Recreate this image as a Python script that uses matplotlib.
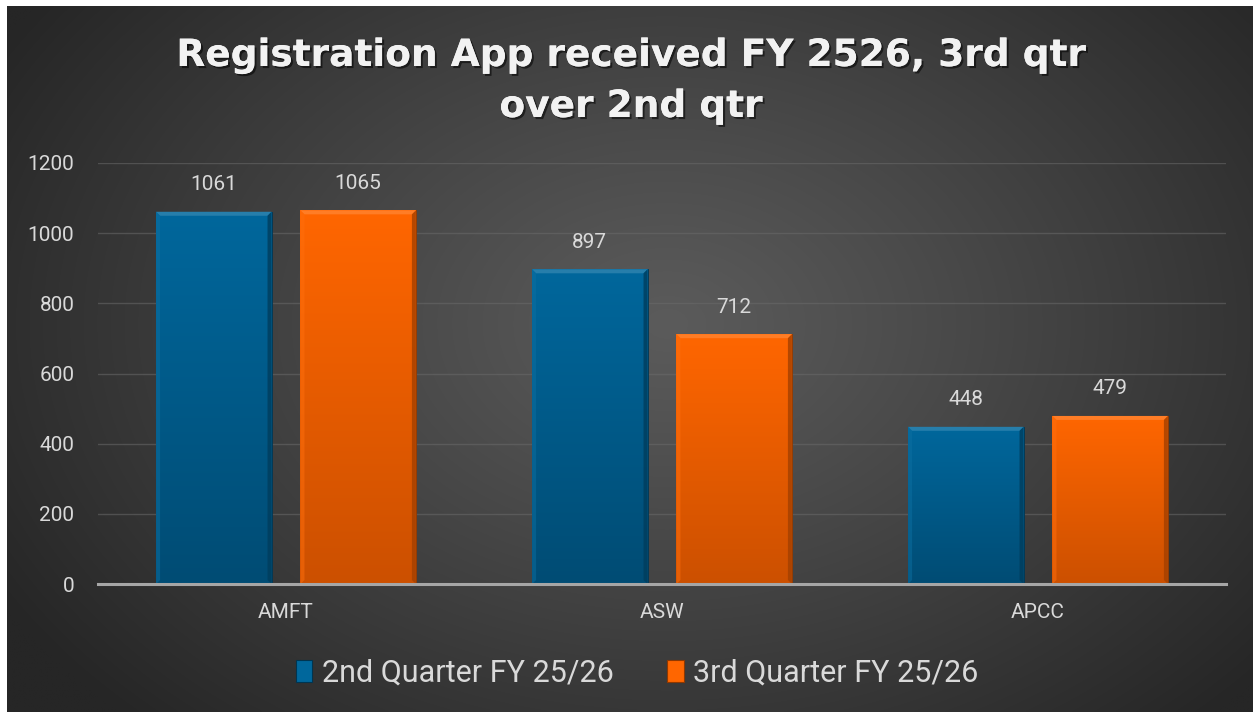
import numpy as np
import matplotlib
matplotlib.use("Agg")
import matplotlib.pyplot as plt
from matplotlib.patches import Patch, Polygon
import matplotlib.patheffects as pe
from matplotlib.colors import to_rgb

categories = ["AMFT", "ASW", "APCC"]
series_names = ["2nd Quarter FY 25/26", "3rd Quarter FY 25/26"]
q2_values = [1061, 897, 448]
q3_values = [1065, 712, 479]
y_ticks = [0, 200, 400, 600, 800, 1000, 1200]
title_lines = ["Registration App received FY 2526, 3rd qtr", "over 2nd qtr"]

colors = ["#00679c", "#ff6600"]
dark_colors = ["#004c74", "#cc5000"]

W, H = 1253, 715
fig = plt.figure(figsize=(W / 100, H / 100), dpi=100)
fig.patch.set_facecolor("white")

# background radial gradient
bg = fig.add_axes([7 / W, 3 / H, 1246 / W, 706 / H], zorder=-10)
gx, gy = np.meshgrid(np.linspace(0, 1, 600), np.linspace(0, 1, 340))
r = np.sqrt(((gx - 0.53) / 0.62) ** 2 + ((gy - 0.45) / 0.78) ** 2)
r = np.clip(r, 0, 1) ** 1.1
c_in = np.array(to_rgb("#5b5b5b"))
c_out = np.array(to_rgb("#262626"))
img = c_in[None, None, :] * (1 - r[..., None]) + c_out[None, None, :] * r[..., None]
bg.imshow(img, aspect="auto", extent=(0, 1, 0, 1), origin="upper", interpolation="bilinear")
bg.set_axis_off()

ax = fig.add_axes([98 / W, 1 - 584 / H, 1128 / W, 421 / H])
ax.set_facecolor("none")
ax.set_xlim(-0.5, len(categories) - 0.5)
ax.set_ylim(0, 1200)

x = np.arange(len(categories))
bw = 0.307
off = 0.192

ax.set_yticks(y_ticks)
ax.set_yticklabels([str(t) for t in y_ticks])
ax.yaxis.grid(True, color="#6a6a6a", linewidth=1.0, alpha=0.55)
ax.set_axisbelow(True)
for s in ["top", "right", "left"]:
    ax.spines[s].set_visible(False)
ax.spines["bottom"].set_color("#a6a6a6")
ax.spines["bottom"].set_linewidth(2.2)
ax.spines["bottom"].set_zorder(5)
ax.tick_params(axis="both", length=0, colors="#d9d9d9", labelsize=15)
ax.tick_params(axis="y", pad=17)
ax.tick_params(axis="x", pad=14)
ax.set_xticks(x)
ax.set_xticklabels(categories)
for lbl in ax.get_xticklabels() + ax.get_yticklabels():
    lbl.set_fontfamily(["Roboto", "DejaVu Sans"])
    lbl.set_color("#d9d9d9")

# pixel -> data conversion factors
px_x = (len(categories)) / 1128.0
px_y = 1200 / 421.0

def shade(c, f):
    c = np.array(to_rgb(c))
    if f >= 0:
        return tuple(c + (1 - c) * f)
    return tuple(c * (1 + f))

for si, (vals, col, dcol) in enumerate(zip([q2_values, q3_values], colors, dark_colors)):
    xs = x + (-off if si == 0 else off)
    bars = ax.bar(xs, vals, width=bw, color=col, zorder=3, edgecolor=shade(dcol, -0.3), linewidth=0.6)
    for b, v in zip(bars, vals):
        x0, x1 = b.get_x(), b.get_x() + b.get_width()
        h = b.get_height()
        grad = np.linspace(0, 1, 100)[:, None]
        c_top = np.array(to_rgb(col))
        c_bot = np.array(to_rgb(dcol))
        gimg = c_top[None, None, :] * (1 - grad[..., None]) + c_bot[None, None, :] * grad[..., None]
        gimg = np.repeat(gimg, 2, axis=1)
        im = ax.imshow(gimg, extent=(x0, x1, 0, h), origin="upper", aspect="auto", zorder=3.1,
                       interpolation="bilinear")
        im.set_clip_path(b)
        bx, by = 4 * px_x, 4 * px_y
        top = Polygon([(x0, h), (x1, h), (x1 - bx, h - by), (x0 + bx, h - by)], closed=True,
                      facecolor=shade(col, 0.15), edgecolor="none", zorder=3.2)
        left = Polygon([(x0, h), (x0 + bx, h - by), (x0 + bx, by), (x0, 0)], closed=True,
                       facecolor=shade(col, 0.05), edgecolor="none", zorder=3.2, alpha=0.5)
        right = Polygon([(x1, h), (x1 - bx, h - by), (x1 - bx, by), (x1, 0)], closed=True,
                        facecolor=shade(dcol, -0.2), edgecolor="none", zorder=3.2, alpha=0.8)
        ax.add_patch(top)
        ax.add_patch(left)
        ax.add_patch(right)
        ax.annotate(str(v), (b.get_x() + b.get_width() / 2, h), xytext=(0, 19.5),
                    textcoords="offset points", ha="center", va="center",
                    color="#d9d9d9", fontsize=15, family=["Roboto", "DejaVu Sans"], zorder=6)

# legend
handles = [Patch(facecolor=c, edgecolor=shade(d, -0.3), linewidth=0.8) for c, d in zip(colors, dark_colors)]
leg = fig.legend(handles, series_names, loc="center", bbox_to_anchor=(637 / W, 1 - 673 / H),
                 ncol=2, frameon=False, handlelength=0.55, handleheight=0.7, handletextpad=0.3,
                 columnspacing=1.75, borderpad=0.2,
                 prop={"family": ["Roboto", "DejaVu Sans"], "size": 22})
for t in leg.get_texts():
    t.set_color("#d9d9d9")

# title
shadow = [pe.withSimplePatchShadow(offset=(1.5, -1.5), shadow_rgbFace="black", alpha=0.55), pe.Normal()]
for i, line in enumerate(title_lines):
    fig.text(631 / W, 1 - (66 + 51 * i) / H, line, ha="center", va="baseline", color="#f2f2f2",
             fontsize=27, fontweight="bold", family=["DejaVu Sans"], path_effects=shadow)

fig.savefig("out.png", dpi=100)
